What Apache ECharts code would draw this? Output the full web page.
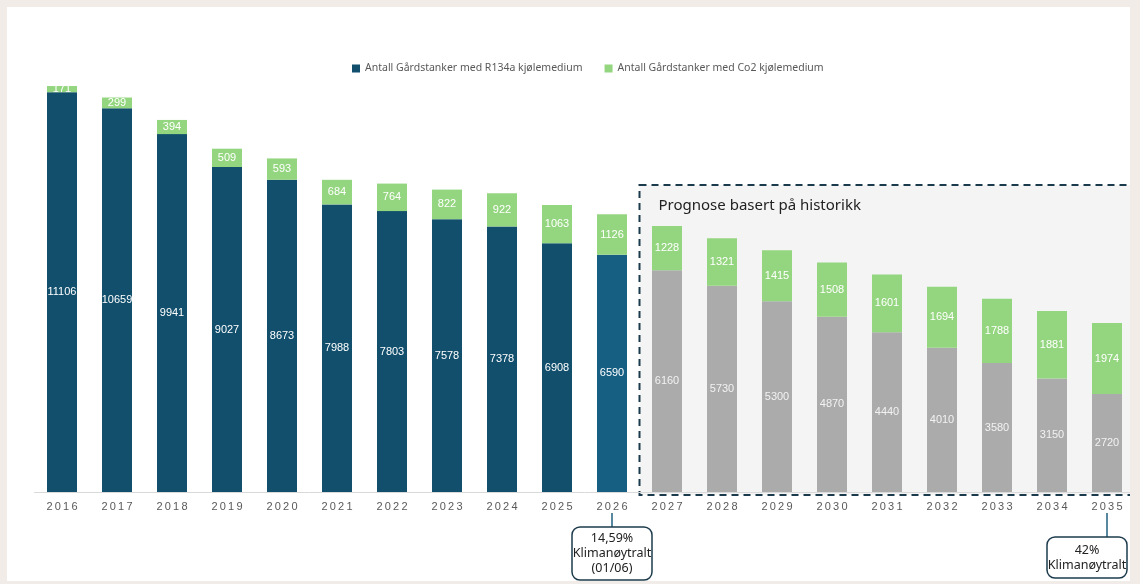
<!DOCTYPE html>
<html>
<head>
<meta charset="utf-8">
<script src="https://cdn.jsdelivr.net/npm/echarts@6/dist/echarts.min.js"></script>
<style>
  html, body { margin: 0; padding: 0; background: #f1ece7; }
  #chart { width: 1140px; height: 584px; }
</style>
</head>
<body>
<div id="chart"></div>
<script>
// Farm tanks by refrigerant, history 2016–2026 and forecast 2027–2035
const years = ['2016','2017','2018','2019','2020','2021','2022','2023','2024','2025',
               '2026','2027','2028','2029','2030','2031','2032','2033','2034','2035'];
const r134aTanks = [11106,10659,9941,9027,8673,7988,7803,7578,7378,6908,
                    6590,6160,5730,5300,4870,4440,4010,3580,3150,2720];
const co2Tanks = [171,299,394,509,593,684,764,822,922,1063,
                  1126,1228,1321,1415,1508,1601,1694,1788,1881,1974];
const forecastStart = '2027';
const callouts = [
  { year: '2026', text: '14,59%\nKlimanøytralt\n(01/06)', shift: 0 },
  { year: '2035', text: '42%\nKlimanøytralt', shift: -20 }
];

const DARK = '#114f6c';
const CURRENT = '#165e82';
const GREEN = '#94d67f';
const GREY = '#ababab';
const fcIdx = years.indexOf(forecastStart);

const chart = echarts.init(document.getElementById('chart'));

const spaced = s => s.split('').join('\u2009');

chart.setOption({
  backgroundColor: '#ffffff',
  animation: false,
  textStyle: { fontFamily: 'Liberation Sans, Arial, sans-serif' },
  legend: {
    top: 58,
    left: 347,
    itemWidth: 8,
    itemHeight: 8,
    itemGap: 22,
    icon: 'rect',
    textStyle: { fontSize: 10.5, color: '#595959', fontFamily: 'Noto Sans, sans-serif' }
  },
  grid: { left: 34.5, right: 5.5, top: 60, bottom: 92 },
  xAxis: {
    type: 'category',
    data: years,
    axisLine: { lineStyle: { color: '#d9d9d9', width: 1 } },
    axisTick: { show: false },
    axisLabel: {
      color: '#595959',
      fontSize: 11,
      margin: 9,
      formatter: v => spaced(v)
    }
  },
  yAxis: {
    type: 'value',
    min: 0,
    max: 12000,
    show: false,
    splitLine: { show: false }
  },
  series: [
    {
      name: 'Antall Gårdstanker med R134a kjølemedium',
      type: 'bar',
      stack: 'tanks',
      barWidth: 30,
      itemStyle: { color: DARK },
      data: r134aTanks.map((v, i) => ({
        value: v,
        itemStyle: { color: i >= fcIdx ? GREY : (years[i] === '2026' ? CURRENT : DARK) },
        label: { color: i >= fcIdx ? '#f2f2f2' : '#ffffff' }
      })),
      label: { show: true, position: 'inside', fontSize: 11, color: '#ffffff' }
    },
    {
      name: 'Antall Gårdstanker med Co2 kjølemedium',
      type: 'bar',
      stack: 'tanks',
      barWidth: 30,
      itemStyle: { color: GREEN },
      data: co2Tanks,
      label: { show: true, position: 'inside', fontSize: 11, color: '#ffffff' }
    }
  ]
});

// Overlays placed from the category axis
function overlays() {
  const px = y => chart.convertToPixel({ xAxisIndex: 0 }, y);
  const x0 = (px(years[fcIdx - 1]) + px(years[fcIdx])) / 2;
  const els = [];

  // forecast panel
  els.push({
    type: 'rect', z: 0, silent: true,
    shape: { x: x0, y: 185, width: 1200 - x0, height: 310 },
    style: { fill: '#f4f4f4', stroke: '#1b3a4b', lineWidth: 2, lineDash: [7, 5] }
  });
  els.push({
    type: 'text', z: 1, silent: true,
    style: { x: x0 + 19, y: 206, text: 'Prognose basert på historikk', fill: '#222222',
             font: '15px "Noto Sans", sans-serif', textVerticalAlign: 'middle' }
  });

  // callout boxes below the axis
  callouts.forEach(c => {
    const cx = px(c.year);
    const bx = cx + c.shift;
    const lines = c.text.split('\n').length;
    const h = lines === 3 ? 53 : 41;
    const top = lines === 3 ? 527 : 537;
    els.push({
      type: 'line', z: 5, silent: true,
      shape: { x1: cx, y1: 513, x2: cx, y2: top },
      style: { stroke: '#1f6080', lineWidth: 1.5 }
    });
    els.push({
      type: 'rect', z: 5, silent: true,
      shape: { x: bx - 40, y: top, width: 80, height: h, r: 8 },
      style: { fill: '#ffffff', stroke: '#1d3b4c', lineWidth: 1.5 }
    });
    els.push({
      type: 'text', z: 6, silent: true,
      style: { x: bx, y: top + h / 2, text: c.text, fill: '#222222',
               font: '12.5px "Noto Sans", sans-serif', lineHeight: 15,
               textAlign: 'center', textVerticalAlign: 'middle' }
    });
  });

  // page frame
  const frame = '#f1ece7';
  [[0, 0, 1140, 7], [0, 0, 7, 584], [1130, 0, 10, 584], [0, 581, 1140, 3]].forEach(r => {
    els.push({ type: 'rect', z: 100, silent: true,
               shape: { x: r[0], y: r[1], width: r[2], height: r[3] }, style: { fill: frame } });
  });
  chart.setOption({ graphic: { elements: els } });
}
overlays();
</script>
</body>
</html>
